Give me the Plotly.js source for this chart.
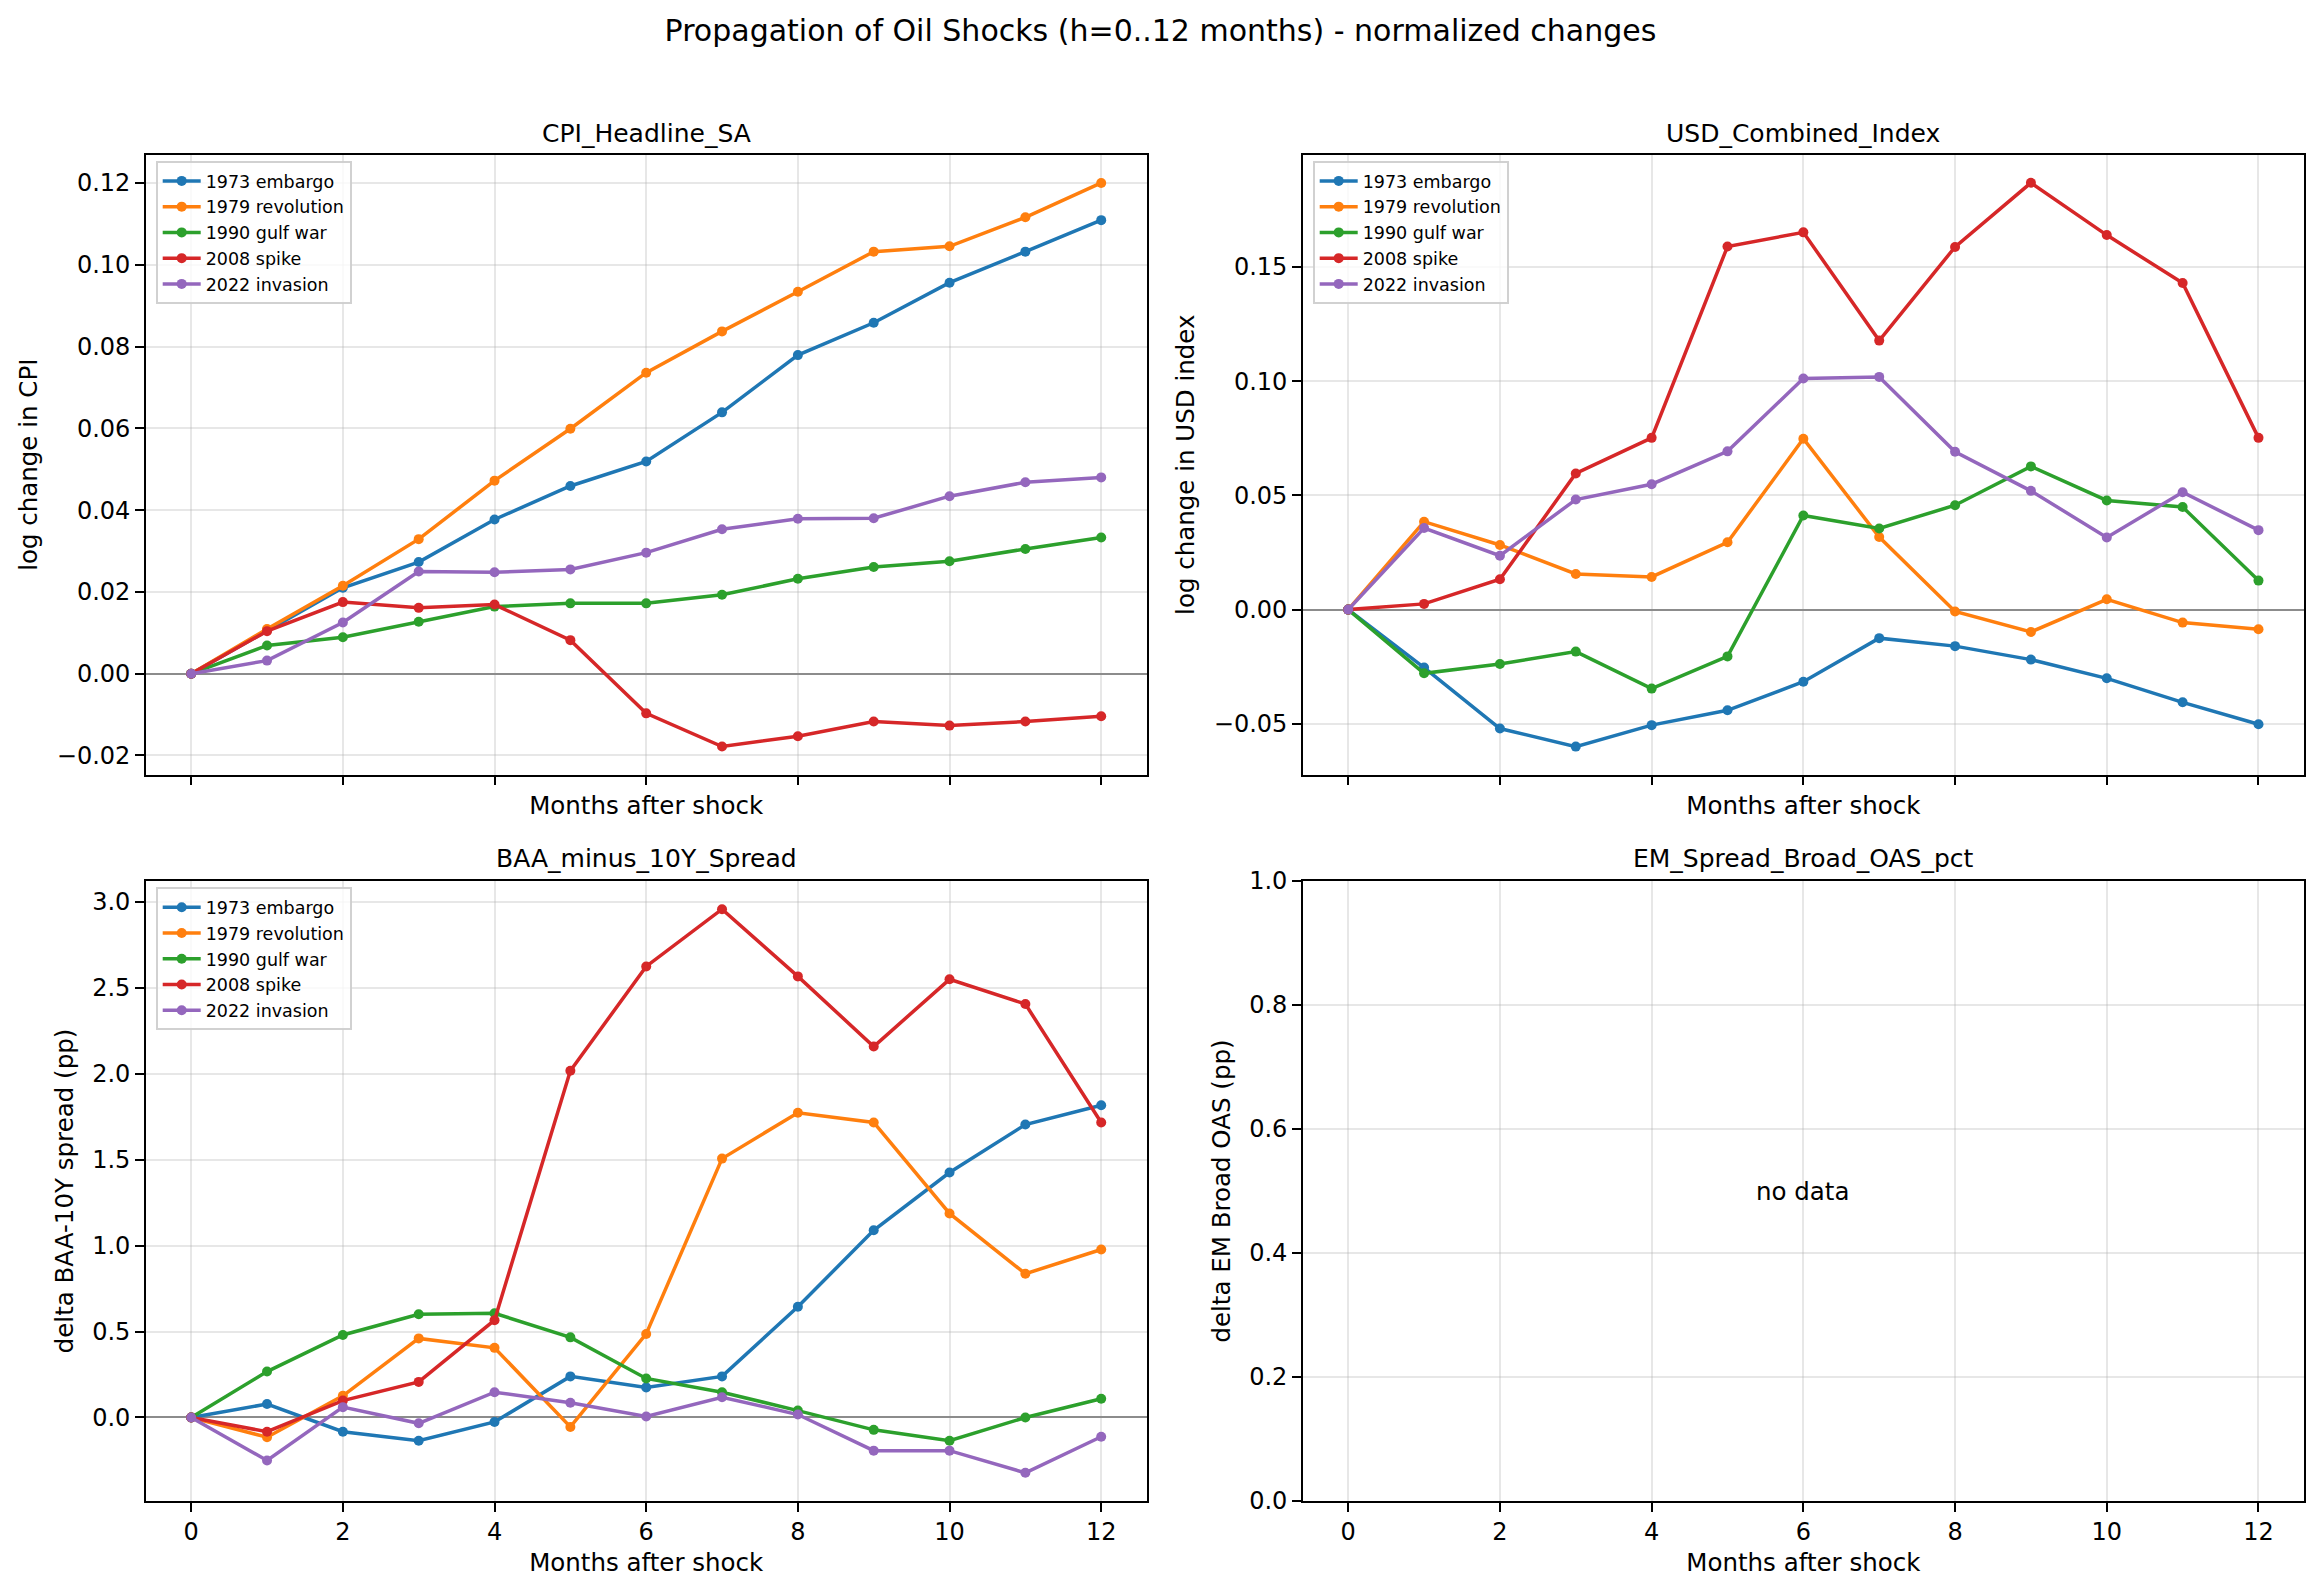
<!DOCTYPE html>
<html>
<head>
<meta charset="utf-8">
<script src="https://cdn.plot.ly/plotly-3.0.1.min.js"></script>
<style>html,body{margin:0;padding:0;background:#fff;}</style>
</head>
<body>
<div id="chart" style="width:2321px;height:1594px;"></div>
<script>
// ---------- data ----------
const months = [0,1,2,3,4,5,6,7,8,9,10,11,12];
const episodes = ["1973 embargo","1979 revolution","1990 gulf war","2008 spike","2022 invasion"];
const colors = ["#1f77b4","#ff7f0e","#2ca02c","#d62728","#9467bd"];

const cpi1973 = [0,0.0106,0.0210,0.0273,0.0377,0.0459,0.0519,0.0639,0.0779,0.0858,0.0956,0.1032,0.1109];
const cpi1979 = [0,0.0109,0.0215,0.0329,0.0472,0.0599,0.0736,0.0837,0.0934,0.1032,0.1045,0.1116,0.1200];
const cpi1990 = [0,0.0069,0.0089,0.0127,0.0164,0.0172,0.0172,0.0193,0.0232,0.0261,0.0275,0.0305,0.0333];
const cpi2008 = [0,0.0104,0.0175,0.0161,0.0169,0.0082,-0.0097,-0.0178,-0.0153,-0.0117,-0.0127,-0.0117,-0.0104];
const cpi2022 = [0,0.0032,0.0125,0.0250,0.0248,0.0255,0.0296,0.0353,0.0379,0.0380,0.0434,0.0468,0.0480];

const usd1973 = [0,-0.0254,-0.0521,-0.0600,-0.0506,-0.0441,-0.0316,-0.0125,-0.0160,-0.0219,-0.0301,-0.0406,-0.0502];
const usd1979 = [0,0.0385,0.0283,0.0156,0.0143,0.0295,0.0748,0.0318,-0.0008,-0.0098,0.0045,-0.0057,-0.0086];
const usd1990 = [0,-0.0279,-0.0238,-0.0184,-0.0346,-0.0205,0.0412,0.0355,0.0457,0.0627,0.0478,0.0449,0.0127];
const usd2008 = [0,0.0025,0.0133,0.0596,0.0752,0.1590,0.1652,0.1178,0.1588,0.1869,0.1640,0.1430,0.0752];
const usd2022 = [0,0.0357,0.0236,0.0482,0.0549,0.0693,0.1012,0.1019,0.0691,0.0520,0.0316,0.0514,0.0348];

const baa1973 = [0,0.078,-0.083,-0.135,-0.026,0.239,0.175,0.239,0.644,1.089,1.425,1.704,1.816];
const baa1979 = [0,-0.115,0.126,0.460,0.405,-0.055,0.486,1.506,1.773,1.716,1.187,0.836,0.977];
const baa1990 = [0,0.267,0.480,0.600,0.606,0.466,0.227,0.147,0.040,-0.072,-0.135,0.000,0.109];
const baa2008 = [0,-0.083,0.098,0.207,0.566,2.017,2.624,2.957,2.566,2.158,2.549,2.405,1.716];
const baa2022 = [0,-0.250,0.060,-0.034,0.147,0.086,0.006,0.118,0.017,-0.193,-0.193,-0.322,-0.112];

const cpiSeries = [cpi1973,cpi1979,cpi1990,cpi2008,cpi2022];
const usdSeries = [usd1973,usd1979,usd1990,usd2008,usd2022];
const baaSeries = [baa1973,baa1979,baa1990,baa2008,baa2022];

const panelTitles = ["CPI_Headline_SA","USD_Combined_Index","BAA_minus_10Y_Spread","EM_Spread_Broad_OAS_pct"];
const yLabels = ["log change in CPI","log change in USD index","delta BAA-10Y spread (pp)","delta EM Broad OAS (pp)"];
const xLabel = "Months after shock";
const mainTitle = "Propagation of Oil Shocks (h=0..12 months) - normalized changes";

const xTicks = [0,2,4,6,8,10,12];
const cpiTicks = [-0.02,0.00,0.02,0.04,0.06,0.08,0.10,0.12];
const usdTicks = [-0.05,0.00,0.05,0.10,0.15];
const baaTicks = [0.0,0.5,1.0,1.5,2.0,2.5,3.0];
const emTicks = [0.0,0.2,0.4,0.6,0.8,1.0];

// ---------- build ----------
const FONT = "DejaVu Sans";
const W = 2321, H = 1594;
const px = v => v / W;
const py = v => 1 - v / H;

const traces = [];
function addPanel(series, xa, ya, legendId) {
  series.forEach((vals, i) => {
    traces.push({
      type: "scatter", mode: "lines+markers",
      x: months, y: vals, name: episodes[i],
      xaxis: xa, yaxis: ya, legend: legendId,
      line: {color: colors[i], width: 3.5},
      marker: {color: colors[i], size: 10},
      hoverinfo: "skip"
    });
  });
}
addPanel(cpiSeries, "x", "y", "legend");
addPanel(usdSeries, "x2", "y2", "legend2");
addPanel(baaSeries, "x3", "y3", "legend3");
traces.push({type:"scatter", mode:"markers", x:[], y:[], xaxis:"x4", yaxis:"y4", showlegend:false});

const colL = [px(145.7), px(1146.7)];
const colR = [px(1302.7), px(2304)];
const rowT = [py(774.7), py(154.7)];
const rowB = [py(1501), py(881)];

function xax(domain, anchor, showLabels) {
  return {
    domain: domain, anchor: anchor, range: [-0.6, 12.6],
    tickmode: "array", tickvals: xTicks, ticktext: xTicks.map(String),
    showticklabels: showLabels,
    ticks: "outside", ticklen: 8.5, tickwidth: 2, tickcolor: "#000",
    showline: true, mirror: true, linecolor: "#000", linewidth: 2,
    showgrid: true, gridcolor: "rgba(176,176,176,0.3)", gridwidth: 2,
    zeroline: false,
    tickfont: {family: FONT, size: 24, color: "#000"},
    title: {text: xLabel, font: {family: FONT, size: 24.5, color: "#000"}, standoff: showLabels ? 9 : 12.5},
    automargin: false
  };
}
function yax(domain, anchor, range, ticks, fmt, label, zl) {
  return {
    domain: domain, anchor: anchor, range: range,
    tickmode: "array", tickvals: ticks,
    tickformat: fmt,
    ticks: "outside", ticklen: 8.5, tickwidth: 2, tickcolor: "#000",
    showline: true, mirror: true, linecolor: "#000", linewidth: 2,
    showgrid: true, gridcolor: "rgba(176,176,176,0.3)", gridwidth: 2,
    zeroline: zl, zerolinecolor: "#8c8c8c", zerolinewidth: 2,
    tickfont: {family: FONT, size: 24, color: "#000"},
    title: {text: label, font: {family: FONT, size: 24.5, color: "#000"}, standoff: 12},
    automargin: false
  };
}

function legendAt(left, top) {
  return {
    x: px(left), y: py(top), xanchor: "left", yanchor: "top",
    xref: "paper", yref: "paper",
    bgcolor: "rgba(255,255,255,0.8)", bordercolor: "rgba(204,204,204,0.9)", borderwidth: 2,
    font: {family: FONT, size: 17.5, color: "#000"},
    itemwidth: 38, tracegroupgap: 0
  };
}

const annotations = [
  {text: panelTitles[0], x: (colL[0]+colL[1])/2, y: py(133.3)},
  {text: panelTitles[1], x: (colR[0]+colR[1])/2, y: py(133.3)},
  {text: panelTitles[2], x: (colL[0]+colL[1])/2, y: py(858.3)},
  {text: panelTitles[3], x: (colR[0]+colR[1])/2, y: py(858.3)}
].map(a => Object.assign(a, {
  xref: "paper", yref: "paper", xanchor: "center", yanchor: "middle", showarrow: false,
  font: {family: FONT, size: 25, color: "#000"}
}));
annotations.push({
  text: "no data", x: 6, y: 0.5, xref: "x4", yref: "y4",
  xanchor: "center", yanchor: "middle", showarrow: false,
  font: {family: FONT, size: 24.5, color: "#000"}
});

const layout = {
  width: W, height: H, autosize: false,
  margin: {l: 0, r: 0, t: 0, b: 0},
  paper_bgcolor: "#fff", plot_bgcolor: "#fff",
  font: {family: FONT, color: "#000"},
  title: {text: mainTitle, font: {family: FONT, size: 30, color: "#000"},
          x: 0.5, xanchor: "center", xref: "paper", y: py(30), yanchor: "middle", yref: "container"},
  showlegend: true,
  xaxis: xax(colL, "y", false),
  yaxis: yax(rowT, "x", [-0.0247, 0.1269], cpiTicks, ".2f", yLabels[0], true),
  xaxis2: xax(colR, "y2", false),
  yaxis2: yax(rowT, "x2", [-0.0723, 0.1992], usdTicks, ".2f", yLabels[1], true),
  xaxis3: xax(colL, "y3", true),
  yaxis3: yax(rowB, "x3", [-0.486, 3.121], baaTicks, ".1f", yLabels[2], true),
  xaxis4: xax(colR, "y4", true),
  yaxis4: yax(rowB, "x4", [0, 1], emTicks, ".1f", yLabels[3], false),
  legend: legendAt(155.7, 161),
  legend2: legendAt(1312.7, 161),
  legend3: legendAt(155.7, 887.3),
  annotations: annotations
};

Plotly.newPlot("chart", traces, layout, {displayModeBar: false, staticPlot: true});
</script>
</body>
</html>
